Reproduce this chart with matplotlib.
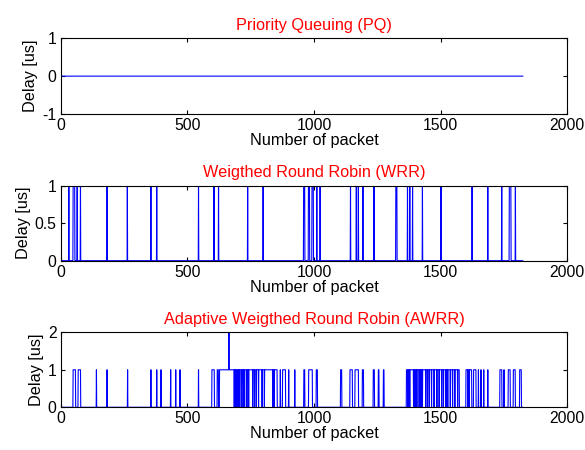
import matplotlib
matplotlib.use("Agg")
import matplotlib.pyplot as plt
import numpy as np

plt.rcParams["font.family"] = ["Liberation Sans", "DejaVu Sans"]

N_PACKETS = 1824

# packet ranges (first, last) that waited one slot
wrr_busy = [(32, 32), (49, 55), (65, 65), (78, 78), (183, 183), (263, 263),
            (356, 356), (379, 379), (544, 544), (605, 605), (623, 623),
            (738, 738), (799, 799), (959, 963), (978, 982), (992, 997),
            (1011, 1011), (1024, 1024), (1144, 1144), (1167, 1167),
            (1175, 1175), (1193, 1193), (1237, 1237), (1323, 1327),
            (1369, 1369), (1378, 1378), (1389, 1389), (1428, 1428),
            (1501, 1501), (1624, 1624), (1686, 1686), (1741, 1741),
            (1771, 1777), (1795, 1795)]

awrr_busy = [(49, 58), (69, 78), (141, 141), (183, 183), (264, 264),
             (356, 356), (379, 379), (396, 396), (434, 434), (454, 454),
             (471, 471), (544, 544), (597, 606), (618, 622), (627, 854),
             (867, 867), (876, 887), (900, 900), (924, 924), (960, 963),
             (979, 993), (1009, 1013), (1105, 1109), (1142, 1151),
             (1162, 1175), (1191, 1195), (1234, 1238), (1254, 1256),
             (1274, 1276), (1365, 1573), (1600, 1622), (1630, 1639),
             (1649, 1649), (1659, 1659), (1670, 1670), (1686, 1686),
             (1734, 1741), (1750, 1750), (1767, 1774), (1787, 1794),
             (1812, 1818)]

# single packets with no delay inside the long busy runs
awrr_gaps = [685, 692, 700, 706, 713, 720, 726, 735, 742, 758, 765, 772,
             781, 795, 804, 837, 843,
             1371, 1378, 1393, 1399, 1406, 1415, 1422, 1428, 1441, 1448,
             1455, 1464, 1474, 1485, 1494, 1504, 1511, 1521, 1528, 1538,
             1547, 1556, 1567, 1607, 1613]

awrr_peaks = [(664, 2)]

x_ticks = [0, 500, 1000, 1500, 2000]


def delay_series(busy=(), gaps=(), peaks=()):
    delay = np.zeros(N_PACKETS)
    for first, last in busy:
        delay[first - 1:last] = 1
    for g in gaps:
        delay[g - 1] = 0
    for p, v in peaks:
        delay[p - 1] = v
    return delay


packets = np.arange(1, N_PACKETS + 1)
series = [
    ("Priority Queuing (PQ)", delay_series(), (-1, 1), [-1, 0, 1], ["-1", "0", "1"]),
    ("Weigthed Round Robin (WRR)", delay_series(wrr_busy), (0, 1), [0, 0.5, 1], ["0", "0.5", "1"]),
    ("Adaptive Weigthed Round Robin (AWRR)", delay_series(awrr_busy, awrr_gaps, awrr_peaks),
     (0, 2), [0, 1, 2], ["0", "1", "2"]),
]

fig = plt.figure(figsize=(5.85, 4.5), dpi=100)
boxes = [[0.1038, 0.7467, 0.866, 0.1682],
         [0.1038, 0.4207, 0.866, 0.1667],
         [0.1038, 0.0949, 0.866, 0.1667]]

for box, (title, delay, ylim, yticks, ylabels) in zip(boxes, series):
    ax = fig.add_axes(box)
    ax.plot(packets, delay, color="#0000ff", linewidth=0.8)
    ax.set_xlim(0, 2000)
    ax.set_ylim(*ylim)
    ax.set_xticks(x_ticks)
    ax.set_yticks(yticks)
    ax.set_yticklabels(ylabels)
    ax.tick_params(direction="in", length=3, width=0.8, top=True, right=True,
                   labelsize=11.3, pad=3, colors="black")
    for spine in ax.spines.values():
        spine.set_linewidth(0.8)
    ax.set_title(title, color="red", fontsize=11.7, pad=6)
    ax.set_xlabel("Number of packet", fontsize=11.7, labelpad=0)
    ax.set_ylabel("Delay [us]", fontsize=11.7, labelpad=3)

fig.savefig("out.png", dpi=100)
